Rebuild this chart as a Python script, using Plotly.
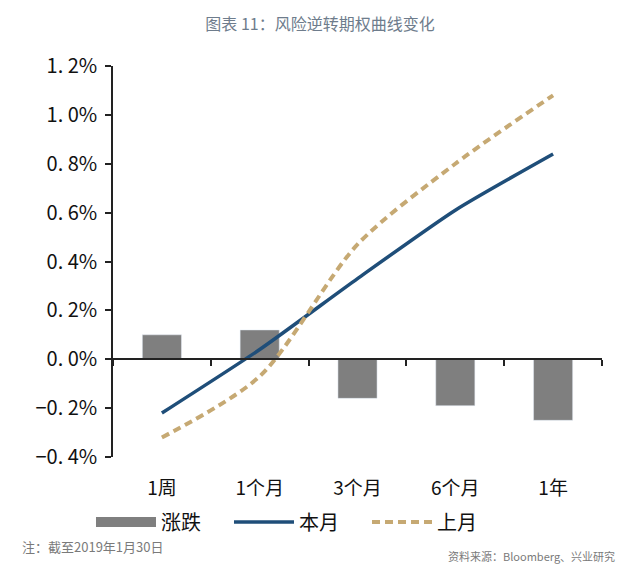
import plotly.graph_objects as go

categories = ["1周", "1个月", "3个月", "6个月", "1年"]
change = [0.10, 0.12, -0.16, -0.19, -0.25]
this_month = [-0.22, 0.04, 0.33, 0.61, 0.84]
last_month = [-0.32, -0.07, 0.47, 0.80, 1.08]
y_ticks = [-0.4, -0.2, 0.0, 0.2, 0.4, 0.6, 0.8, 1.0, 1.2]
y_ticktext = ["−0. 4%", "−0. 2%", "0. 0%", "0. 2%", "0. 4%", "0. 6%", "0. 8%", "1. 0%", "1. 2%"]

FONT = "Noto Sans CJK SC"
GRAY = "#7f7f7f"

fig = go.Figure()
# legend proxy for the bars (wide rectangle symbol)
fig.add_trace(go.Scatter(x=[None], y=[None], name="涨跌", mode="lines", legendgroup="chg",
                         line=dict(color=GRAY, width=11), hoverinfo="skip"))
fig.add_trace(go.Bar(x=categories, y=change, name="涨跌", marker_color=GRAY,
                     width=0.4, legendgroup="chg", showlegend=False))
fig.add_trace(go.Scatter(x=categories, y=this_month, name="本月", mode="lines",
                         line=dict(color="#1f4e79", width=3.5, shape="spline", smoothing=0.6)))
fig.add_trace(go.Scatter(x=categories, y=last_month, name="上月", mode="lines",
                         line=dict(color="#c6a973", width=4, dash="8px,5px", shape="spline", smoothing=0.8)))
# helper trace for zero-level category axis
fig.add_trace(go.Scatter(x=categories, y=[0] * len(categories), xaxis="x2", mode="lines",
                         line=dict(width=0), showlegend=False, hoverinfo="skip"))

fig.update_layout(
    width=640, height=572,
    paper_bgcolor="white", plot_bgcolor="white",
    margin=dict(l=113, r=38, t=66, b=115, autoexpand=False),
    title=dict(text="图表 11：风险逆转期权曲线变化", x=0.5, xanchor="center", y=0.958, yanchor="middle",
               font=dict(family=FONT, size=16, color="#6e7c8c")),
    font=dict(family=FONT, color="#111111"),
    showlegend=True,
    legend=dict(orientation="h", x=-0.045, xanchor="left", y=-0.166, yanchor="middle",
                font=dict(family=FONT, size=20, color="#111111"),
                itemwidth=60, entrywidth=63, traceorder="normal"),
    xaxis=dict(type="category", range=[-0.5, 4.5], showline=False, ticks="", showgrid=False,
               tickfont=dict(family=FONT, size=19, color="#111111"), ticklabelstandoff=18),
    xaxis2=dict(type="category", overlaying="x", matches="x", anchor="free", position=0.25,
                showline=True, linecolor="#222222", linewidth=1.5, ticks="outside",
                tickson="boundaries", ticklen=6, tickcolor="#222222", tickwidth=1.5,
                showticklabels=False, showgrid=False, side="bottom"),
    yaxis=dict(range=[-0.4, 1.2], tickvals=y_ticks, ticktext=y_ticktext, showgrid=False,
               zeroline=False, showline=True, linecolor="#222222", linewidth=1.5,
               ticks="outside", ticklen=6, tickcolor="#222222", tickwidth=1.5,
               ticklabelstandoff=4,
               tickfont=dict(family=FONT, size=20, color="#111111")),
)

fig.add_annotation(text="注：截至2019年1月30日", xref="paper", yref="paper",
                   x=-0.19, y=-0.228, xanchor="left", yanchor="middle", showarrow=False,
                   font=dict(family=FONT, size=13, color="#7a7a7a"))
fig.add_annotation(text="资料来源：Bloomberg、兴业研究", xref="paper", yref="paper",
                   x=1.03, y=-0.253, xanchor="right", yanchor="middle", showarrow=False,
                   font=dict(family=FONT, size=11, color="#7a7a7a"))

fig.write_html("out.html", config={"displayModeBar": False},
               post_script="document.body.style.margin='0';")
